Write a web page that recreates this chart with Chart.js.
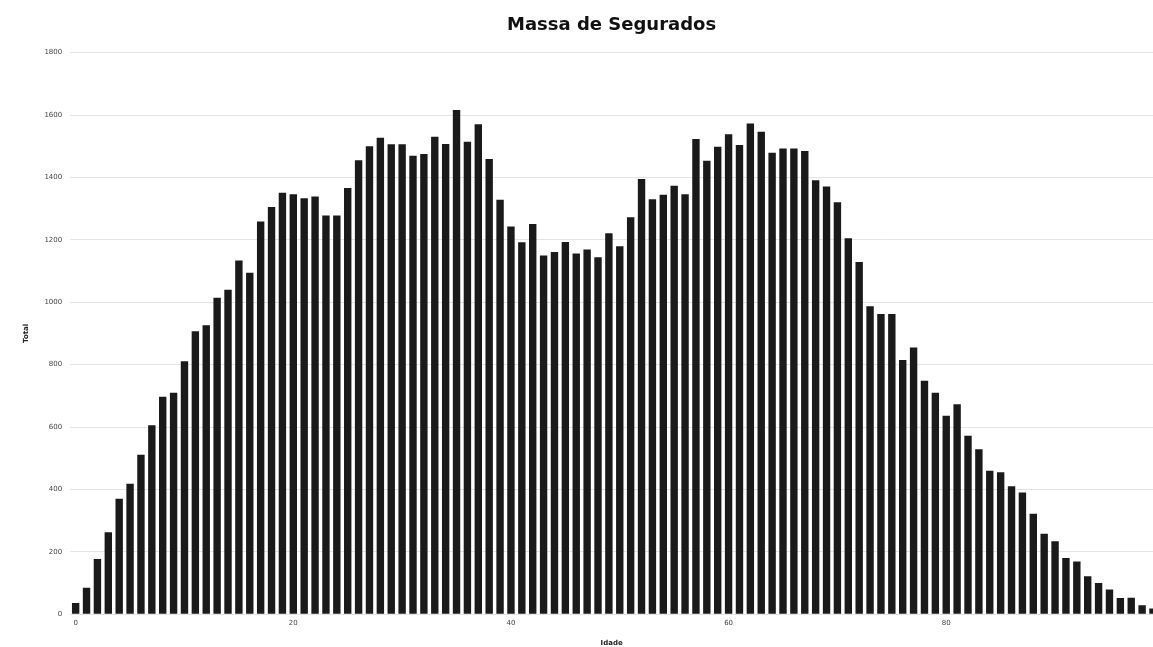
<!DOCTYPE html>
<html>
<head>
<meta charset="utf-8">
<script src="https://cdn.jsdelivr.net/npm/chart.js@4/dist/chart.umd.min.js"></script>
<style>
  html, body { margin: 0; padding: 0; background: #fff; overflow: hidden; }
  #wrap { width: 1153px; height: 647px; }
</style>
</head>
<body>
<div id="wrap"><canvas id="massaChart"></canvas></div>
<script>
// idade (x) e total de segurados (y)
const idades = [
   0,  1,  2,  3,  4,  5,  6,  7,  8,  9,
  10, 11, 12, 13, 14, 15, 16, 17, 18, 19,
  20, 21, 22, 23, 24, 25, 26, 27, 28, 29,
  30, 31, 32, 33, 34, 35, 36, 37, 38, 39,
  40, 41, 42, 43, 44, 45, 46, 47, 48, 49,
  50, 51, 52, 53, 54, 55, 56, 57, 58, 59,
  60, 61, 62, 63, 64, 65, 66, 67, 68, 69,
  70, 71, 72, 73, 74, 75, 76, 77, 78, 79,
  80, 81, 82, 83, 84, 85, 86, 87, 88, 89,
  90, 91, 92, 93, 94, 95, 96, 97, 98, 99
];
const totais = [
    36,   85,  177,  263,  370,  418,  511,  606,  697,  710,
   811,  907,  926, 1014, 1040, 1134, 1094, 1259, 1305, 1351,
  1346, 1333, 1339, 1278, 1278, 1366, 1455, 1500, 1527, 1506,
  1506, 1469, 1475, 1530, 1507, 1616, 1514, 1570, 1459, 1328,
  1243, 1192, 1251, 1150, 1161, 1193, 1156, 1169, 1144, 1221,
  1179, 1272, 1395, 1330, 1344, 1373, 1346, 1523, 1453, 1498,
  1538, 1504, 1573, 1546, 1479, 1493, 1493, 1485, 1391, 1371,
  1320, 1205, 1129,  987,  962,  962,  815,  855,  748,  710,
   636,  673,  572,  529,  460,  455,  410,  390,  322,  258,
   234,  180,  169,  122,  100,   79,   52,   53,   29,   18
];
const xTicks = [0, 20, 40, 60, 80];
const yMax   = 1800;
const yStep  = 200;

const ctx = document.getElementById('massaChart').getContext('2d');

new Chart(ctx, {
  type: 'bar',
  data: {
    datasets: [{
      label: 'Total',
      data: idades.map((x, i) => ({ x, y: totais[i] })),
      backgroundColor: '#1a1a1a',
      borderWidth: 0,
      barPercentage: 0.85,
      categoryPercentage: 0.8
    }]
  },
  options: {
    responsive: true,
    maintainAspectRatio: false,
    animation: false,
    layout: { padding: { left: 22, right: 0, top: 6, bottom: 0 } },
    plugins: {
      legend: { display: false },
      tooltip: { enabled: false },
      title: {
        display: true,
        text: 'Massa de Segurados',
        fullSize: false,
        color: '#111',
        font: { family: 'DejaVu Sans', size: 18, weight: 'bold' },
        padding: { top: 9, bottom: 16 }
      }
    },
    scales: {
      x: {
        type: 'linear',
        offset: false,
        min: -0.5,
        max: 99,
        afterBuildTicks: s => { s.ticks = xTicks.map(v => ({ value: v })); },
        grid: { display: false, drawTicks: false },
        border: { display: false },
        ticks: {
          color: '#444',
          font: { family: 'DejaVu Sans', size: 7 },
          padding: 5,
          maxRotation: 0,
          callback: v => String(v)
        },
        title: {
          display: true,
          text: 'Idade',
          color: '#222',
          font: { family: 'DejaVu Sans', size: 7, weight: 'bold' },
          padding: { top: 6, bottom: 0 }
        }
      },
      y: {
        min: 0,
        max: yMax,
        ticks: {
          stepSize: yStep,
          color: '#444',
          font: { family: 'DejaVu Sans', size: 7 },
          padding: 8,
          callback: v => String(v)
        },
        grid: { color: '#e4e4e4', lineWidth: 1, drawTicks: false },
        border: { display: false },
        title: {
          display: true,
          text: 'Total',
          color: '#222',
          font: { family: 'DejaVu Sans', size: 7, weight: 'bold' },
          padding: { top: 0, bottom: 6 }
        }
      }
    }
  }
});
</script>
</body>
</html>
